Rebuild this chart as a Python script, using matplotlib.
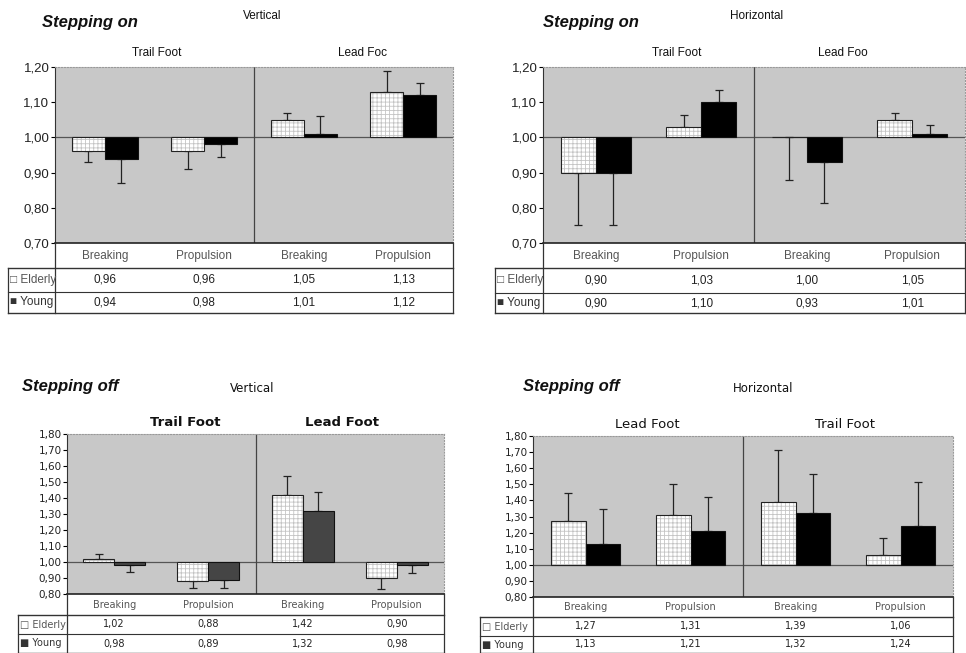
import numpy as np
import matplotlib
matplotlib.use("Agg")
import matplotlib.pyplot as plt

# ---- data ----
cats = ["Breaking", "Propulsion", "Breaking", "Propulsion"]

on_vert_elderly = [0.96, 0.96, 1.05, 1.13]
on_vert_young = [0.94, 0.98, 1.01, 1.12]
on_vert_elderly_tip = [0.93, 0.91, 1.07, 1.19]
on_vert_young_tip = [0.87, 0.945, 1.06, 1.155]

on_hor_elderly = [0.90, 1.03, 1.00, 1.05]
on_hor_young = [0.90, 1.10, 0.93, 1.01]
on_hor_elderly_tip = [0.75, 1.065, 0.88, 1.07]
on_hor_young_tip = [0.75, 1.135, 0.815, 1.035]

off_vert_elderly = [1.02, 0.88, 1.42, 0.90]
off_vert_young = [0.98, 0.89, 1.32, 0.98]
off_vert_elderly_tip = [1.05, 0.835, 1.535, 0.83]
off_vert_young_tip = [0.94, 0.835, 1.44, 0.93]

off_hor_elderly = [1.27, 1.31, 1.39, 1.06]
off_hor_young = [1.13, 1.21, 1.32, 1.24]
off_hor_elderly_tip = [1.445, 1.50, 1.715, 1.165]
off_hor_young_tip = [1.345, 1.42, 1.565, 1.515]

W, H = 966, 653
plt.rcParams['hatch.linewidth'] = 0.6
fig = plt.figure(figsize=(W / 100, H / 100), dpi=100)
fig.patch.set_facecolor("white")

NARROW = ["Liberation Sans Narrow", "Liberation Sans", "DejaVu Sans"]
WIDE = ["DejaVu Sans"]

ov = fig.add_axes([0, 0, 1, 1], zorder=5)
ov.set_xlim(0, W)
ov.set_ylim(H, 0)
ov.axis("off")
ov.patch.set_alpha(0)


def fmt(v):
    return ("%.2f" % v).replace(".", ",")


def panel(box, elderly, young, e_tip, y_tip, ylim, young_col, font, fs,
          table_rows, label_left, title, sub, groups, tick_fs):
    l, t, r, b = box
    ax = fig.add_axes([l / W, 1 - b / H, (r - l) / W, (b - t) / H])
    ax.set_facecolor("#c8c8c8")
    x = np.arange(4)
    w = 0.33
    e = np.array(elderly)
    y = np.array(young)
    et = np.array(e_tip)
    yt = np.array(y_tip)
    # one-sided error bars (drawn under the bars)
    for xs, v, tip in ((x - w / 2, e, et), (x + w / 2, y, yt)):
        lo = np.clip(v - tip, 0, None)
        hi = np.clip(tip - v, 0, None)
        ax.errorbar(xs, v, yerr=[lo, hi], fmt="none", ecolor="#222222",
                    elinewidth=0.9, capsize=3, capthick=0.9, zorder=1)
    ax.bar(x - w / 2, e - 1.0, w, bottom=1.0, color="white",
           edgecolor="#c4c4c4", hatch="++++", linewidth=0, zorder=2)
    ax.bar(x - w / 2, e - 1.0, w, bottom=1.0, fill=False,
           edgecolor="#222222", linewidth=0.8, zorder=3)
    ax.bar(x + w / 2, y - 1.0, w, bottom=1.0, color=young_col,
           edgecolor="#111111", linewidth=0.8, zorder=3)
    ax.axhline(1.0, color="#555555", lw=0.9, zorder=1.5)
    ax.axvline(1.5, color="#444444", lw=0.9, zorder=1.5)
    ax.set_xlim(-0.5, 3.5)
    ax.set_ylim(*ylim)
    ax.set_yticks(np.arange(ylim[0], ylim[1] + 0.001, 0.1))
    ax.set_yticklabels([fmt(v) for v in np.arange(ylim[0], ylim[1] + 0.001, 0.1)],
                       family=font, fontsize=tick_fs, color="#222222")
    ax.set_xticks([])
    ax.tick_params(axis="y", length=3, width=0.8, pad=1)
    for s in ("top", "right"):
        ax.spines[s].set_color("#999999")
        ax.spines[s].set_linestyle(":")
    ax.spines["left"].set_color("#333333")
    ax.spines["bottom"].set_color("#222222")
    ax.spines["bottom"].set_linewidth(1.2)

    # titles
    ov.text(title[1], title[2], title[0], fontsize=12, fontweight="bold",
            style="italic", family=["Liberation Sans", "DejaVu Sans"],
            va="center", ha="left", color="#111111")
    ov.text(sub[1], sub[2], sub[0], fontsize=sub[3], family=font,
            va="center", ha="center", color="#111111")
    for g in groups:
        ov.text(g[1], g[2], g[0], fontsize=g[3], family=font,
                fontweight=g[4], va="center", ha="center", color="#111111")

    # data table
    h0, h1, h2, h3 = table_rows
    lc = "#333333"
    ov.plot([l, l], [b, h3], color=lc, lw=0.9)
    ov.plot([r - 0.5, r - 0.5], [b, h3], color=lc, lw=0.9)
    ov.plot([label_left, r], [h1, h1], color=lc, lw=1.0)
    ov.plot([label_left, r], [h2, h2], color=lc, lw=0.8)
    ov.plot([label_left, r], [h3 - 0.5, h3 - 0.5], color=lc, lw=1.0)
    ov.plot([label_left, label_left], [h1, h3], color=lc, lw=0.9)
    cw = (r - l) / 4
    for i in range(4):
        cx = l + (i + 0.5) * cw
        ov.text(cx, (h0 + h1) / 2, cats[i], fontsize=fs, family=font,
                ha="center", va="center", color="#555555")
        ov.text(cx, (h1 + h2) / 2, fmt(elderly[i]), fontsize=fs, family=font,
                ha="center", va="center", color="#222222")
        ov.text(cx, (h2 + h3) / 2, fmt(young[i]), fontsize=fs, family=font,
                ha="center", va="center", color="#222222")
    ov.text(label_left + 2, (h1 + h2) / 2, "\u25a1 Elderly", fontsize=fs,
            family=font, ha="left", va="center", color="#555555")
    ov.text(label_left + 2, (h2 + h3) / 2, "\u25a0 Young", fontsize=fs,
            family=font, ha="left", va="center", color="#333333")
    return ax


panel((55, 67, 453, 243), on_vert_elderly, on_vert_young,
      on_vert_elderly_tip, on_vert_young_tip, (0.70, 1.20), "black",
      NARROW, 8.5, (243, 268, 292, 313), 8,
      ("Stepping on", 42, 22), ("Vertical", 262, 16, 8.5),
      [("Trail Foot", 157, 53, 8.5, "normal"), ("Lead Foc", 363, 53, 8.5, "normal")],
      9.5)

panel((543, 67, 965, 243), on_hor_elderly, on_hor_young,
      on_hor_elderly_tip, on_hor_young_tip, (0.70, 1.20), "black",
      NARROW, 8.5, (243, 268, 293, 313), 495,
      ("Stepping on", 543, 22), ("Horizontal", 757, 16, 8.5),
      [("Trail Foot", 677, 53, 8.5, "normal"), ("Lead Foo", 843, 53, 8.5, "normal")],
      9.5)

panel((67, 434, 444, 594), off_vert_elderly, off_vert_young,
      off_vert_elderly_tip, off_vert_young_tip, (0.80, 1.80), "#454545",
      WIDE, 7, (594, 615, 634, 653), 18,
      ("Stepping off", 22, 386), ("Vertical", 252, 388, 8.5),
      [("Trail Foot", 185, 423, 9.5, "bold"), ("Lead Foot", 342, 423, 9.5, "bold")],
      7.5)

panel((533, 436, 953, 597), off_hor_elderly, off_hor_young,
      off_hor_elderly_tip, off_hor_young_tip, (0.80, 1.80), "black",
      WIDE, 7, (597, 617, 636, 653), 480,
      ("Stepping off", 523, 387), ("Horizontal", 763, 388, 8.5),
      [("Lead Foot", 647, 425, 9.5, "normal"), ("Trail Foot", 845, 425, 9.5, "normal")],
      7.5)

fig.savefig("out.png", dpi=100, facecolor="white")
